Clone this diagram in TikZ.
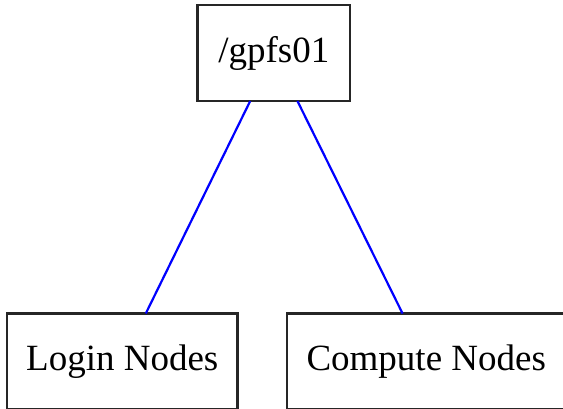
\documentclass[tikz,border=0pt]{standalone}
\usepackage{fontspec}
\setmainfont{Liberation Serif}
\begin{document}
\begin{tikzpicture}[x=1pt,y=1pt,
  box/.style={draw=black!85, line width=2.2pt, minimum height=96pt, inner sep=0pt, outer sep=0pt, font=\fontsize{37}{44}\selectfont, text=black},
  link/.style={draw=blue, line width=2.2pt}]
\useasboundingbox (0,0) rectangle (563,408);
\clip (0,0) rectangle (563,408);
\node[box, minimum width=152.5pt] (root) at (273.75,355) {/gpfs01};
\node[box, minimum width=230.5pt] (login) at (122.25,46.5) {Login Nodes};
\node[box, minimum width=278.5pt] (compute) at (426.25,46.5) {Compute Nodes};
\draw[link] (root) -- (login);
\draw[link] (root) -- (compute);
\end{tikzpicture}
\end{document}
